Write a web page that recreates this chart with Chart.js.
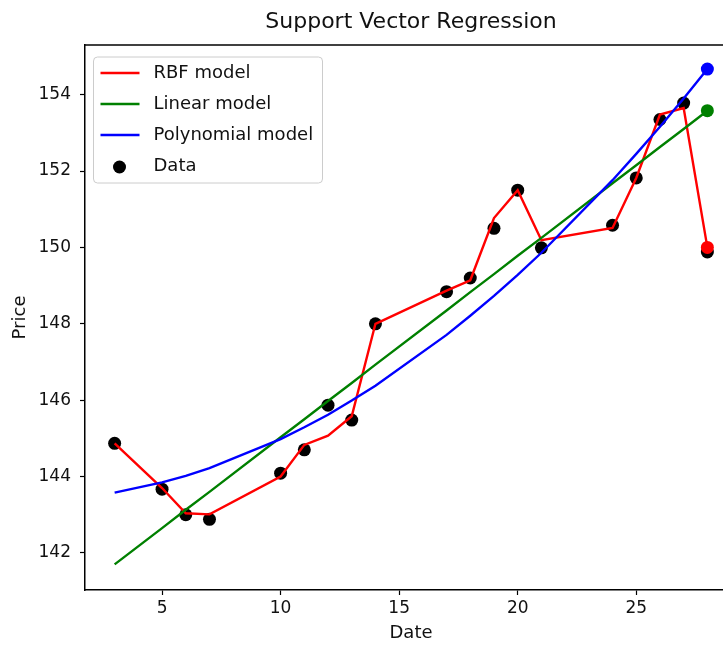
<!DOCTYPE html>
<html>
<head>
<meta charset="utf-8">
<script src="https://cdn.jsdelivr.net/npm/chart.js@4.4.1/dist/chart.umd.min.js"></script>
<style>
  html, body { margin: 0; padding: 0; background: #fff; overflow: hidden; }
  #wrap { width: 723px; height: 648px; overflow: hidden; position: relative; }
  #box { width: 750px; height: 648px; }
</style>
</head>
<body>
<div id="wrap"><div id="box"><canvas id="chart"></canvas></div></div>
<script>
// values
const dates = [3, 5, 6, 7, 10, 11, 12, 13, 14, 17, 18, 19, 20, 21, 24, 25, 26, 27, 28];
const prices = [144.87, 143.67, 143.0, 142.88, 144.09, 144.7, 145.87, 145.48, 148.0, 148.84,
                149.2, 150.5, 151.5, 149.99, 150.58, 151.82, 153.35, 153.78, 149.88];
const rbfModel = [144.87, 143.7, 143.04, 143.01, 144.0, 144.83, 145.07, 145.58, 148.0, 148.87,
                  149.14, 150.77, 151.5, 150.19, 150.51, 151.82, 153.48, 153.65, 150.0];
const linearModel = [141.70, 142.65, 143.13, 143.60, 145.03, 145.50, 145.98, 146.45, 146.93, 148.35,
                     148.83, 149.30, 149.78, 150.25, 151.68, 152.15, 152.63, 153.10, 153.58];
const polyModel = [143.58, 143.85, 144.02, 144.22, 144.98, 145.29, 145.62, 145.99, 146.38, 147.71,
                   148.21, 148.73, 149.28, 149.86, 151.76, 152.45, 153.16, 153.90, 154.67];
const xTicks = [5, 10, 15, 20, 25];
const yTicks = [142, 144, 146, 148, 150, 152, 154];
const seriesNames = ['RBF model', 'Linear model', 'Polynomial model', 'Data'];

const FONT = 'DejaVu Sans';
const COLORS = { rbf: '#ff0000', linear: '#008000', poly: '#0000ff', data: '#000000' };

const toPoints = (ys) => dates.map((d, i) => ({ x: d, y: ys[i] }));
const lastDot = (ctx) => ctx.dataIndex === dates.length - 1 ? 6.5 : 0;

const lineSet = (label, ys, color, order) => ({
    label: label,
    data: toPoints(ys),
    borderColor: color,
    backgroundColor: color,
    borderWidth: 2.4,
    pointRadius: lastDot,
    pointBorderWidth: 0,
    tension: 0,
    order: order
});

// top spine, title and the boxed legend, matplotlib style
const extras = {
    id: 'extras',
    afterDatasetsDraw(chart) {
        const c = chart.ctx;
        const a = chart.chartArea;
        c.save();
        c.strokeStyle = '#000';
        c.lineWidth = 1.5;
        c.beginPath();
        c.moveTo(a.left, a.top);
        c.lineTo(a.right, a.top);
        c.stroke();

        c.fillStyle = '#111';
        c.font = '22px "' + FONT + '"';
        c.textAlign = 'center';
        c.textBaseline = 'middle';
        c.fillText('Support Vector Regression', (a.left + a.right) / 2, 22);

        const bx = a.left + 8.5, by = a.top + 12, bw = 229, bh = 126;
        c.beginPath();
        c.roundRect(bx, by, bw, bh, 4);
        c.fillStyle = 'rgba(255,255,255,0.85)';
        c.fill();
        c.strokeStyle = '#cccccc';
        c.lineWidth = 1;
        c.stroke();

        const cols = [COLORS.rbf, COLORS.linear, COLORS.poly, COLORS.data];
        c.font = '18px "' + FONT + '"';
        c.textAlign = 'left';
        seriesNames.forEach((name, i) => {
            const y = by + 16 + i * 31;
            if (i < 3) {
                c.strokeStyle = cols[i];
                c.lineWidth = 2.4;
                c.beginPath();
                c.moveTo(bx + 7, y);
                c.lineTo(bx + 46, y);
                c.stroke();
            } else {
                c.fillStyle = cols[i];
                c.beginPath();
                c.arc(bx + 26, y + 1, 6.5, 0, Math.PI * 2);
                c.fill();
            }
            c.fillStyle = '#111';
            c.fillText(name, bx + 60, y);
        });
        c.restore();
    }
};

new Chart(document.getElementById('chart'), {
    type: 'line',
    data: {
        datasets: [
            lineSet(seriesNames[0], rbfModel, COLORS.rbf, 3),
            lineSet(seriesNames[1], linearModel, COLORS.linear, 2),
            lineSet(seriesNames[2], polyModel, COLORS.poly, 1),
            {
                label: seriesNames[3],
                data: toPoints(prices),
                showLine: false,
                pointRadius: 6.5,
                pointBorderWidth: 0,
                backgroundColor: COLORS.data,
                borderColor: COLORS.data,
                order: 4
            }
        ]
    },
    options: {
        responsive: true,
        maintainAspectRatio: false,
        animation: false,
        layout: { padding: { left: 0, right: 13, top: 45, bottom: 0 } },
        plugins: {
            legend: { display: false },
            title: { display: false },
            tooltip: { enabled: false }
        },
        scales: {
            x: {
                type: 'linear',
                min: 1.75,
                max: 29.25,
                afterBuildTicks: (s) => { s.ticks = xTicks.map(v => ({ value: v })); },
                afterFit: (s) => { s.height = 58; },
                grid: { drawOnChartArea: false, drawTicks: true, tickLength: 5, color: '#000', tickColor: '#000', tickWidth: 1.2 },
                border: { display: true, color: '#000', width: 1.5 },
                ticks: { color: '#111', font: { family: FONT, size: 17 }, padding: 3, maxRotation: 0 },
                title: { display: true, text: 'Date', color: '#111', font: { family: FONT, size: 18 }, padding: { top: 0, bottom: 4 } }
            },
            y: {
                type: 'linear',
                min: 141.03,
                max: 155.3,
                afterBuildTicks: (s) => { s.ticks = yTicks.map(v => ({ value: v })); },
                afterFit: (s) => { s.width = 85; },
                grid: { drawOnChartArea: false, drawTicks: true, tickLength: 5, color: '#000', tickColor: '#000', tickWidth: 1.2 },
                border: { display: true, color: '#000', width: 1.5 },
                ticks: { color: '#111', font: { family: FONT, size: 17 }, padding: 9 },
                title: { display: true, text: 'Price', color: '#111', font: { family: FONT, size: 18 }, padding: { top: 10, bottom: 0 } }
            }
        }
    },
    plugins: [extras]
});
</script>
</body>
</html>
